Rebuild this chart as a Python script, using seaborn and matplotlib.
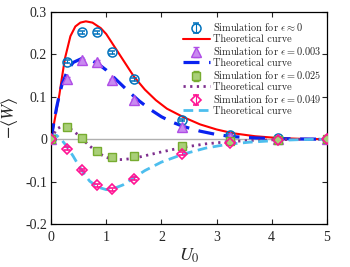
import numpy as np
import pandas as pd
import matplotlib
matplotlib.use("Agg")
import matplotlib.pyplot as plt
import seaborn as sns
from matplotlib.font_manager import FontProperties

# --- simulation points ---
u_sim = [0, 0.28, 0.56, 0.83, 1.1, 1.5, 2.38, 3.24, 4.11, 5.0]
sim_eps0 = [0, 0.183, 0.252, 0.252, 0.205, 0.141, 0.045, 0.009, 0.002, 0.0]
sim_eps003 = [0, 0.143, 0.187, 0.183, 0.139, 0.092, 0.029, 0.006, 0.001, 0.0]
sim_eps025 = [0, 0.029, 0.004, -0.028, -0.043, -0.040, -0.017, -0.004, -0.001, 0.0]
sim_eps049 = [0, -0.022, -0.073, -0.109, -0.118, -0.093, -0.034, -0.010, -0.002, 0.0]
sim_err = 0.003

# --- theoretical curves ---
u_red = [0, 0.05, 0.1, 0.15, 0.19, 0.25, 0.35, 0.44, 0.53, 0.63, 0.75, 0.9, 1.0,
         1.1, 1.3, 1.5, 1.7, 1.9, 2.1, 2.4, 2.7, 3.0, 3.3, 3.7, 4.1, 4.5, 5.0]
th_eps0 = [0, 0.035, 0.07, 0.105, 0.14, 0.19, 0.243, 0.266, 0.275, 0.278, 0.275,
           0.262, 0.248, 0.228, 0.188, 0.148, 0.117, 0.092, 0.072, 0.052, 0.035,
           0.023, 0.014, 0.007, 0.003, 0.001, 0.0]

u_blue = [0, 0.05, 0.1, 0.15, 0.2, 0.3, 0.4, 0.55, 0.7, 0.85, 1.0, 1.2, 1.4, 1.6,
          1.8, 2.0, 2.2, 2.4, 2.7, 3.0, 3.3, 3.7, 4.1, 4.5, 5.0]
th_eps003 = [0, 0.04, 0.075, 0.105, 0.13, 0.163, 0.181, 0.19, 0.188, 0.178,
             0.163, 0.138, 0.113, 0.09, 0.07, 0.053, 0.04, 0.03, 0.019, 0.011,
             0.006, 0.003, 0.0015, 0.0005, 0.0]

u_purple = [0, 0.05, 0.1, 0.2, 0.28, 0.4, 0.5, 0.6, 0.7, 0.85, 1.0, 1.15, 1.3, 1.5,
            1.7, 2.0, 2.4, 2.8, 3.2, 3.6, 4.1, 4.5, 5.0]
th_eps025 = [0, 0.012, 0.024, 0.031, 0.030, 0.020, 0.009, -0.004, -0.016, -0.032,
             -0.043, -0.048, -0.048, -0.045, -0.039, -0.030, -0.019, -0.011,
             -0.006, -0.003, -0.0012, -0.0004, 0.0]

u_cyan = [0, 0.05, 0.1, 0.18, 0.28, 0.4, 0.5, 0.6, 0.7, 0.85, 1.0, 1.1, 1.3, 1.5,
          1.7, 2.0, 2.4, 2.8, 3.2, 3.6, 4.1, 4.5, 5.0]
th_eps049 = [0, 0.008, 0.009, 0.0, -0.016, -0.040, -0.062, -0.082, -0.099, -0.113,
             -0.119, -0.118, -0.108, -0.091, -0.074, -0.054, -0.035, -0.021,
             -0.012, -0.007, -0.003, -0.001, 0.0]

x_ticks = [0, 1, 2, 3, 4, 5]
y_ticks = [-0.2, -0.1, 0, 0.1, 0.2, 0.3]
y_tick_labels = ["-0.2", "-0.1", "0", "0.1", "0.2", "0.3"]

sns.set_style("ticks")
plt.rcParams["font.family"] = ["Liberation Serif", "DejaVu Serif"]
plt.rcParams["mathtext.fontset"] = "stix"

fig, ax = plt.subplots(figsize=(3.5, 2.67), dpi=100)
fig.subplots_adjust(left=0.146, right=0.934, bottom=0.161, top=0.955)

ax.axhline(0, color="#b0b0b0", lw=1.0, zorder=0)

curves = [
    (u_red, th_eps0, dict(color="#ff0000", lw=1.5, ls="-")),
    (u_blue, th_eps003, dict(color="#0a22f0", lw=2.3, dashes=(5, 3))),
    (u_purple, th_eps025, dict(color="#7e2f8e", lw=2.0, dashes=(0.8, 1.6))),
    (u_cyan, th_eps049, dict(color="#4dbeee", lw=2.0, dashes=(3.5, 2))),
]
sims = [
    (sim_eps0, dict(fmt="o", color="#0072bd", mfc="none", mec="#0072bd", ms=6.5, mew=1.1)),
    (sim_eps003, dict(fmt="^", color="#b04de6", mfc="#c98af0", mec="#b04de6", ms=7.5, mew=1.0)),
    (sim_eps025, dict(fmt="s", color="#77ac30", mfc="#a9cf78", mec="#77ac30", ms=5.5, mew=1.0)),
    (sim_eps049, dict(fmt="D", color="#ff1493", mfc="none", mec="#ff1493", ms=5.5, mew=1.2)),
]
sim_labels = [r"Simulation for $\epsilon \approx 0$",
              r"Simulation for $\epsilon = 0.003$",
              r"Simulation for $\epsilon = 0.025$",
              r"Simulation for $\epsilon = 0.049$"]

handles, labels = [], []
for (xs, ys, style), (sy, sstyle), slabel in zip(curves, sims, sim_labels):
    df = pd.DataFrame({"U0": xs, "W": ys})
    sns.lineplot(data=df, x="U0", y="W", ax=ax, zorder=2, **style)
    line = ax.lines[-1]
    eb = ax.errorbar(u_sim, sy, yerr=sim_err, capsize=2, elinewidth=0.8,
                     capthick=0.8, zorder=3, **sstyle)
    handles += [eb, line]
    labels += [slabel, "Theoretical curve"]

tick_font = FontProperties(family="Liberation Serif", size=10)
ax.set_xlim(0, 5)
ax.set_ylim(-0.2, 0.3)
ax.set_xticks(x_ticks)
ax.set_xticklabels([str(t) for t in x_ticks], fontproperties=tick_font)
ax.set_yticks(y_ticks)
ax.set_yticklabels(y_tick_labels, fontproperties=tick_font)
ax.tick_params(direction="in", length=3.5, width=0.8, top=True, right=True)
ax.tick_params(axis="x", pad=5)
ax.tick_params(axis="y", pad=3)
for sp in ax.spines.values():
    sp.set_visible(True)
    sp.set_linewidth(0.9)
    sp.set_color("black")

ax.set_xlabel(r"$U_0$", fontsize=13, labelpad=2)
ax.set_ylabel(r"$-\langle W\rangle$", fontsize=13)
ax.yaxis.set_label_coords(-0.112, 0.5)

leg_font = FontProperties(family="cmr10", size=7.4, math_fontfamily="cm")
ax.legend(handles, labels, loc="upper right", bbox_to_anchor=(1.0, 0.985),
          frameon=False, prop=leg_font, handlelength=2.6, handletextpad=0.3,
          labelspacing=0.12, borderaxespad=0.2)

plt.savefig("out.png", dpi=100)
plt.close()
